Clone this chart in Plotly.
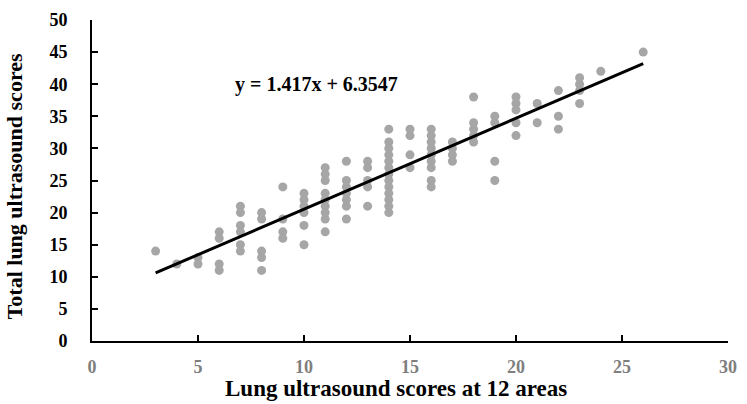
import plotly.graph_objects as go

# Lung ultrasound scores at 12 areas (x) vs total lung ultrasound scores (y)
x_vals = [3,
          4,
          5, 5,
          6, 6, 6, 6,
          7, 7, 7, 7, 7, 7,
          8, 8, 8, 8, 8,
          9, 9, 9, 9,
          10, 10, 10, 10, 10, 10,
          11, 11, 11, 11, 11, 11, 11, 11, 11,
          12, 12, 12, 12, 12, 12, 12,
          13, 13, 13, 13, 13,
          14, 14, 14, 14, 14, 14, 14, 14, 14, 14, 14, 14, 14,
          15, 15, 15, 15,
          16, 16, 16, 16, 16, 16, 16, 16, 16,
          17, 17, 17, 17,
          18, 18, 18, 18, 18,
          19, 19, 19, 19,
          20, 20, 20, 20, 20,
          21, 21,
          22, 22, 22,
          23, 23, 23, 23,
          24,
          26]
y_vals = [14,
          12,
          13, 12,
          17, 16, 12, 11,
          21, 20, 18, 17, 15, 14,
          20, 19, 14, 13, 11,
          24, 19, 17, 16,
          23, 22, 21, 20, 18, 15,
          27, 26, 25, 23, 22, 21, 20, 19, 17,
          28, 25, 24, 23, 22, 21, 19,
          28, 27, 25, 24, 21,
          33, 31, 30, 29, 28, 27, 26, 25, 24, 23, 22, 21, 20,
          33, 32, 29, 27,
          33, 32, 31, 30, 29, 28, 27, 25, 24,
          31, 30, 29, 28,
          38, 34, 33, 32, 31,
          35, 34, 28, 25,
          38, 37, 36, 34, 32,
          37, 34,
          39, 35, 33,
          41, 40, 39, 37,
          42,
          45]

slope = 1.417
intercept = 6.3547
equation_text = "y = 1.417x + 6.3547"
x_title = "Lung ultrasound scores at 12 areas"
y_title = "Total lung ultrasound scores"
x_ticks = [0, 5, 10, 15, 20, 25, 30]
y_ticks = [0, 5, 10, 15, 20, 25, 30, 35, 40, 45, 50]

x_line = [min(x_vals), max(x_vals)]
y_line = [slope * v + intercept for v in x_line]

FONT = "Liberation Serif"
W, H = 747, 404
L, R, T, B = 92, 15, 10, 63
pw, ph = W - L - R, H - T - B


def px_to_paper(px, py):
    return (px - L) / pw, (H - B - py) / ph


fig = go.Figure()
fig.add_trace(go.Scatter(
    x=x_vals, y=y_vals, mode="markers",
    marker=dict(color="#A6A6A6", size=9, line=dict(width=0)),
    showlegend=False, hoverinfo="x+y"))
fig.add_trace(go.Scatter(
    x=x_line, y=y_line, mode="lines",
    line=dict(color="#000000", width=3),
    showlegend=False, hoverinfo="skip"))

fig.add_annotation(
    x=10.6, y=40.0, xref="x", yref="y", text="<b>" + equation_text + "</b>",
    showarrow=False, font=dict(family=FONT, size=20, color="#000000"),
    xanchor="center", yanchor="middle")

xt_x, xt_y = px_to_paper(398, 390)
fig.add_annotation(
    x=xt_x, y=xt_y, xref="paper", yref="paper", text="<b>" + x_title + "</b>",
    showarrow=False, font=dict(family=FONT, size=23, color="#000000"),
    xanchor="center", yanchor="middle")

yt_x, yt_y = px_to_paper(14, 181)
fig.add_annotation(
    x=yt_x, y=yt_y, xref="paper", yref="paper", text="<b>" + y_title + "</b>",
    showarrow=False, textangle=-90,
    font=dict(family=FONT, size=22, color="#000000"),
    xanchor="center", yanchor="middle")

fig.update_layout(
    width=W, height=H,
    margin=dict(l=L, r=R, t=T, b=B, pad=0),
    paper_bgcolor="white", plot_bgcolor="white",
    font=dict(family=FONT),
    xaxis=dict(range=[0, 30], tickvals=x_ticks, ticks="inside", ticklen=6,
               tickwidth=1.5, tickcolor="black", showgrid=False, zeroline=False,
               showline=True, linecolor="black", linewidth=2,
               tickfont=dict(family=FONT, size=18, color="#7F7F7F", weight="bold"),
               ticklabelstandoff=8),
    yaxis=dict(range=[0, 50], tickvals=y_ticks, ticks="inside", ticklen=6,
               tickwidth=1.5, tickcolor="black", showgrid=False, zeroline=False,
               showline=True, linecolor="black", linewidth=2,
               tickfont=dict(family=FONT, size=18, color="#000000", weight="bold"),
               ticklabelstandoff=19),
)

fig.write_html("out.html",
               config={"displayModeBar": False},
               post_script="document.body.style.margin='0';"
                           "document.body.style.overflow='hidden';")
